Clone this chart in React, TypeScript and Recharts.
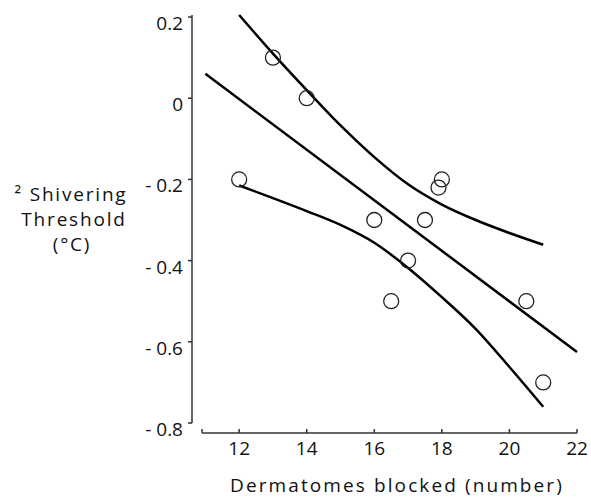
import { ComposedChart, Line, Scatter, XAxis, YAxis } from 'recharts';

const FONT = '"Open Sans", sans-serif';

// observed points
const pointX = [12, 13, 14, 16, 16.5, 17, 17.5, 17.9, 18, 20.5, 21];
const pointY = [-0.2, 0.1, 0, -0.3, -0.5, -0.4, -0.3, -0.22, -0.2, -0.5, -0.7];

// regression line
const fitX = [11, 22];
const fitY = [0.06, -0.625];

// confidence curves
const bandX = [12, 13, 14, 15, 16, 17, 18, 19, 20, 21];
const upperY = [0.205, 0.11, 0.02, -0.067, -0.145, -0.212, -0.262, -0.3, -0.332, -0.361];
const lowerY = [-0.215, -0.246, -0.278, -0.312, -0.356, -0.418, -0.49, -0.568, -0.662, -0.76];

const xTicks = [10.9, 12, 14, 16, 18, 20, 22];
const yTicks = [0.2, 0, -0.2, -0.4, -0.6, -0.8];

const points = pointX.map((x, i) => ({ x, y: pointY[i] }));
const fit = fitX.map((x, i) => ({ x, y: fitY[i] }));
const upper = bandX.map((x, i) => ({ x, y: upperY[i] }));
const lower = bandX.map((x, i) => ({ x, y: lowerY[i] }));

const fmtY = (v: number) => {
  if (v === 0) return '0';
  return v < 0 ? '- ' + Math.abs(v).toFixed(1) : v.toFixed(1);
};

const YTick = ({ x, y, payload }: any) => (
  <text x={x - 13} y={y + 6} textAnchor="end" dominantBaseline="central"
    fontSize={19} fill="#111" fontFamily={FONT}>
    {fmtY(payload.value)}
  </text>
);

// the left end of the axis gets a tick mark but no label
const XTick = ({ x, y, payload }: any) => (
  !Number.isInteger(payload.value) ? null :
  <text x={x} y={y + 19} textAnchor="middle" dominantBaseline="central"
    fontSize={19} fill="#111" fontFamily={FONT}>
    {payload.value}
  </text>
);

const Ring = ({ cx, cy }: any) => (
  <circle cx={cx} cy={cy} r={7.5} fill="none" stroke="#222" strokeWidth={1.3} />
);

const axisStroke = { stroke: '#333', strokeWidth: 1.5 };

export default function App() {
  return (
    <div style={{ position: 'absolute', left: 0, top: 0, width: 591, height: 497, background: '#fff' }}>
      <ComposedChart width={591} height={497} margin={{ top: 15, right: 14, left: 0, bottom: 0 }}>
        <XAxis dataKey="x" type="number" domain={[10.9, 22]} ticks={xTicks} height={74}
          axisLine={{ ...axisStroke, transform: 'translate(0,10)' }}
          tickLine={{ ...axisStroke, transform: 'translate(0,6)' }}
          tickSize={4} tick={<XTick />}
          label={{
            content: () => (
              <text x={397} y={485} textAnchor="middle" dominantBaseline="central"
                fontSize={19} letterSpacing={2.1} fill="#111" fontFamily={FONT}>
                Dermatomes blocked (number)
              </text>
            ),
          }} />
        <YAxis dataKey="y" type="number" domain={[-0.8, 0.2]} ticks={yTicks} width={202}
          axisLine={{ ...axisStroke, transform: 'translate(-10,0)' }}
          tickLine={{ ...axisStroke, transform: 'translate(-10,0)' }}
          tickSize={4} tick={<YTick />}
          label={{
            content: () => (
              <text textAnchor="middle" fontSize={19} letterSpacing={1.8} fill="#111" fontFamily={FONT}>
                <tspan x={71} y={201}>² Shivering</tspan>
                <tspan x={74} y={226}>Threshold</tspan>
                <tspan x={72} y={251}>(°C)</tspan>
              </text>
            ),
          }} />
        <Line data={fit} dataKey="y" type="linear" stroke="#000" strokeWidth={2.5}
          dot={false} activeDot={false} isAnimationActive={false} />
        <Line data={upper} dataKey="y" type="monotone" stroke="#000" strokeWidth={2.5}
          dot={false} activeDot={false} isAnimationActive={false} />
        <Line data={lower} dataKey="y" type="monotone" stroke="#000" strokeWidth={2.5}
          dot={false} activeDot={false} isAnimationActive={false} />
        <Scatter data={points} dataKey="y" shape={<Ring />} isAnimationActive={false} />
      </ComposedChart>
    </div>
  );
}
